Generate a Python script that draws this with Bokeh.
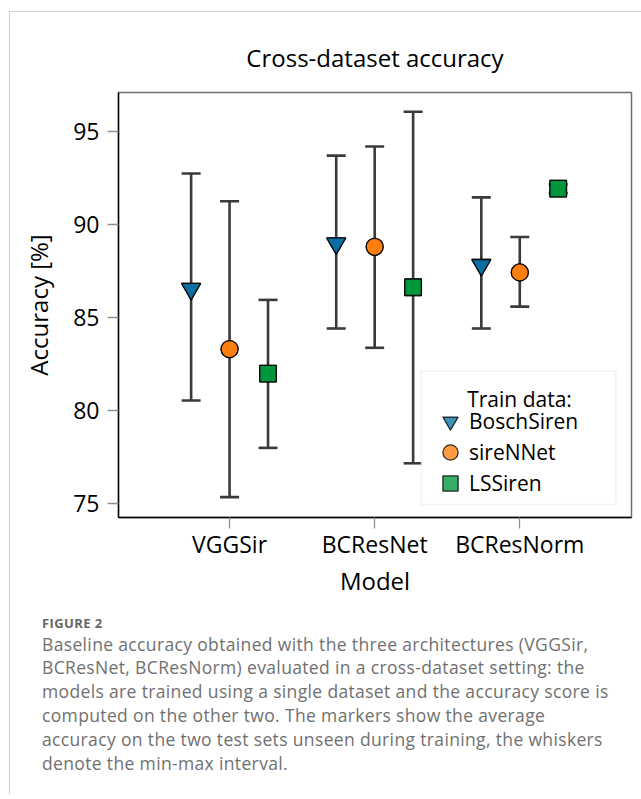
from bokeh.plotting import figure
from bokeh.layouts import column
from bokeh.models import (Whisker, TeeHead, ColumnDataSource, Legend, LegendItem, Label,
                          BoxAnnotation, FixedTicker, Range1d, Div)
from bokeh.embed import file_html
from bokeh.resources import INLINE

# ---------------- data ----------------
models = ["VGGSir", "BCResNet", "BCResNorm"]
train_sets = ["BoschSiren", "sireNNet", "LSSiren"]

bosch_mean = [86.53, 88.98, 87.82]
bosch_min = [80.52, 84.40, 84.40]
bosch_max = [92.75, 93.71, 91.46]

siren_mean = [83.29, 88.80, 87.42]
siren_min = [75.32, 83.36, 85.58]
siren_max = [91.25, 94.20, 89.33]

ls_mean = [81.97, 86.62, 91.93]
ls_min = [77.97, 77.14, 91.69]
ls_max = [85.94, 96.07, 92.16]

y_ticks = [75, 80, 85, 90, 95]

title_text = "Cross-dataset accuracy"
x_label = "Model"
y_label = "Accuracy [%]"
legend_title = "Train data:"
figure_label = "FIGURE 2"
caption_lines = [
    "Baseline accuracy obtained with the three architectures (VGGSir,",
    "BCResNet, BCResNorm) evaluated in a cross-dataset setting: the",
    "models are trained using a single dataset and the accuracy score is",
    "computed on the other two. The markers show the average",
    "accuracy on the two test sets unseen during training, the whiskers",
    "denote the min-max interval.",
]

# ---------------- styling ----------------
FONT = "Open Sans"
series = [
    (train_sets[0], bosch_mean, bosch_min, bosch_max, "inverted_triangle", 19, "#0a6fa0", -0.265),
    (train_sets[1], siren_mean, siren_min, siren_max, "circle", 17, "#ff7f0e", 0.0),
    (train_sets[2], ls_mean, ls_min, ls_max, "square", 16.5, "#00963c", 0.265),
]

W = 623
FL, FT, FW, FH = 108, 80, 513, 425
FIG_H = 602

p = figure(frame_width=FW, frame_height=FH,
           min_border_left=FL, min_border_right=W - FL - FW,
           min_border_top=FT, min_border_bottom=FIG_H - FT - FH,
           x_range=Range1d(-0.7655, 2.770), y_range=Range1d(74.22, 97.11),
           output_backend="svg", toolbar_location=None)

p.grid.visible = False
p.outline_line_color = "#707070"
p.outline_line_width = 1.5
p.background_fill_color = "white"
p.border_fill_color = "white"

# title
p.title.text = title_text
p.title.align = "center"
p.title.text_font = FONT
p.title.text_font_size = "24px"
p.title.text_font_style = "normal"
p.title.text_color = "black"
p.title.standoff = 38

# axes
p.xaxis.ticker = FixedTicker(ticks=list(range(len(models))))
p.xaxis.major_label_overrides = {i: m for i, m in enumerate(models)}
p.yaxis.ticker = FixedTicker(ticks=y_ticks)
for ax in (p.xaxis[0], p.yaxis[0]):
    ax.axis_line_color = "black"
    ax.axis_line_width = 1.4
    ax.major_tick_line_color = "#909090"
    ax.major_tick_line_width = 1.3
    ax.major_tick_out = 11
    ax.major_tick_in = 0
    ax.minor_tick_line_color = None
    ax.major_label_text_font = FONT
    ax.major_label_text_font_size = "23px"
    ax.major_label_text_color = "black"
    ax.axis_label_text_font = FONT
    ax.axis_label_text_font_style = "normal"
    ax.axis_label_text_font_size = "24px"
    ax.axis_label_text_color = "black"
p.xaxis.axis_label = x_label
p.yaxis.axis_label = y_label
try:
    p.xaxis.major_label_standoff = -1
except Exception:
    p.xaxis.major_label_standoff = 0
p.xaxis.axis_label_standoff = 1
p.yaxis.major_label_standoff = 8
p.yaxis.axis_label_standoff = 15

# whiskers
for name, mean, lo, hi, marker, size, color, off in series:
    xs = [i + off for i in range(len(models))]
    src = ColumnDataSource(dict(x=xs, mean=mean, lo=lo, hi=hi))
    w = Whisker(source=src, base="x", upper="hi", lower="lo", dimension="height",
                line_color="#3a3a3a", line_width=2.6,
                upper_head=TeeHead(size=19, line_color="#3a3a3a", line_width=2.6),
                lower_head=TeeHead(size=19, line_color="#3a3a3a", line_width=2.6))
    p.add_layout(w)

# markers
legend_renderers = []
for name, mean, lo, hi, marker, size, color, off in series:
    xs = [i + off for i in range(len(models))]
    src = ColumnDataSource(dict(x=xs, mean=mean, lo=lo, hi=hi))
    p.scatter("x", "mean", source=src, marker=marker, size=size,
              fill_color=color, line_color="black", line_width=1.3)
    # same marks with lighter alpha on top: identical in the plot, lighter in the legend
    r = p.scatter("x", "mean", source=src, marker=marker, size=size,
                  fill_color=color, fill_alpha=0.78, line_color="black", line_alpha=0.8, line_width=1.3)
    legend_renderers.append((name, r))

# legend box (screen px relative to the frame's bottom-left corner)
box = BoxAnnotation(left=302.7, right=497.3, bottom=13, top=146.3,
                    left_units="screen", right_units="screen", top_units="screen", bottom_units="screen",
                    fill_color="white", fill_alpha=0.9, line_color="#d8d8d8", line_width=1.5)
p.add_layout(box)

p.add_layout(Label(x=401, y=118.7, x_units="screen", y_units="screen", text=legend_title,
                   text_align="center", text_baseline="alphabetic",
                   text_font=FONT, text_font_size="21px", text_color="black"))

GW = 38
row_centers = [95.7, 65.0, 34.0]
for (name, r), cy in zip(legend_renderers, row_centers):
    lg = Legend(items=[LegendItem(label=name, renderers=[r])],
                location=(332 - GW / 2, cy - GW / 2), orientation="vertical",
                border_line_alpha=0, background_fill_alpha=0,
                padding=0, margin=0, spacing=0, label_standoff=0,
                glyph_width=GW, glyph_height=GW, label_height=31,
                label_text_font=FONT, label_text_font_size="21px", label_text_color="black")
    p.add_layout(lg, "center")

# caption (HTML text under the chart)
cap_html = (
    f'<div style="font-family:\'{FONT}\';color:#707070;white-space:nowrap;padding-left:32px;">'
    f'<div style="font-size:13px;font-weight:bold;line-height:18.6px;letter-spacing:0.4px;color:#666666;">{figure_label}</div>'
    f'<div style="font-size:17.5px;line-height:23.8px;letter-spacing:0.35px;">' + "<br>".join(caption_lines) + '</div></div>'
)
cap = Div(text=cap_html, width=631, height=180, margin=0)

layout = column(p, cap, spacing=0, margin=(11, 0, 0, 9),
                styles={"border-left": "1px solid #cfcfcf", "border-top": "1px solid #cfcfcf",
                        "background-color": "white"})

open("out.html", "w").write(file_html(layout, INLINE))
